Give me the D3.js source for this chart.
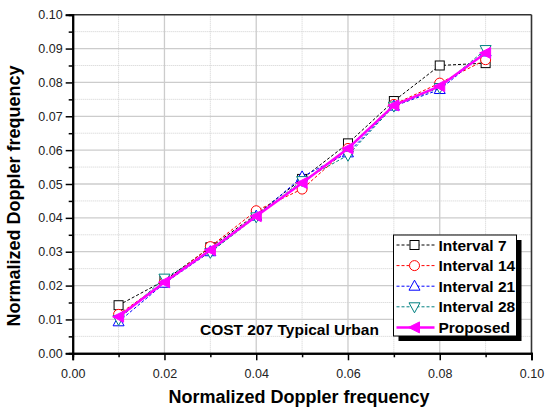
<!DOCTYPE html>
<html>
<head>
<meta charset="utf-8">
<script src="https://cdnjs.cloudflare.com/ajax/libs/d3/7.8.5/d3.min.js"></script>
<style>
body{margin:0;background:#fff;}
text{font-family:Arial,"Liberation Sans",sans-serif;}
</style>
</head>
<body>
<div id="chart"></div>
<script>
// data
var xs = [0.01,0.02,0.03,0.04,0.05,0.06,0.07,0.08,0.09];
var interval7  = [0.0142,0.0215,0.0313,0.0410,0.0515,0.0620,0.0745,0.0850,0.0857];
var interval14 = [0.0115,0.0210,0.0315,0.0421,0.0485,0.0605,0.0735,0.0798,0.0867];
var interval21 = [0.0093,0.0207,0.0300,0.0405,0.0521,0.0592,0.0730,0.0779,0.0890];
var interval28 = [0.0100,0.0222,0.0298,0.0403,0.0510,0.0585,0.0730,0.0785,0.0897];
var proposed   = [0.0108,0.0210,0.0305,0.0405,0.0503,0.0605,0.0732,0.0789,0.0887];
var seriesNames = ["Interval 7","Interval 14","Interval 21","Interval 28","Proposed"];
var xTicks = [0,0.02,0.04,0.06,0.08,0.10];
var yTicks = [0,0.01,0.02,0.03,0.04,0.05,0.06,0.07,0.08,0.09,0.10];

var series = [
    {name:seriesNames[0], vals:interval7,  color:"#000000", sym:"square"},
    {name:seriesNames[1], vals:interval14, color:"#ff0000", sym:"circle"},
    {name:seriesNames[2], vals:interval21, color:"#0000ff", sym:"up"},
    {name:seriesNames[3], vals:interval28, color:"#008080", sym:"down"},
    {name:seriesNames[4], vals:proposed,   color:"#ff00ff", sym:"left"}
];

var W=545,H=410;
var L=72.7,R=531.5,T=14.7,B=353.3;

var svg = d3.select("#chart").append("svg")
    .attr("width",W).attr("height",H);

var x = d3.scaleLinear().domain([0,0.1]).range([L,R]);
var y = d3.scaleLinear().domain([0,0.1]).range([B,T]);

// grid
var minorX = d3.range(0.01,0.1,0.02);
var minorY = d3.range(0.005,0.1,0.01);
svg.selectAll(".gxm").data(minorX).enter().append("line")
    .attr("x1",d=>x(d)).attr("x2",d=>x(d)).attr("y1",T).attr("y2",B)
    .attr("stroke","#d0d0d0").attr("stroke-width",1).attr("stroke-dasharray","1,1");
svg.selectAll(".gym").data(minorY).enter().append("line")
    .attr("y1",d=>y(d)).attr("y2",d=>y(d)).attr("x1",L).attr("x2",R)
    .attr("stroke","#d0d0d0").attr("stroke-width",1).attr("stroke-dasharray","1,1");
svg.selectAll(".gx").data(xTicks.slice(1,-1)).enter().append("line")
    .attr("x1",d=>x(d)).attr("x2",d=>x(d)).attr("y1",T).attr("y2",B)
    .attr("stroke","#cccccc").attr("stroke-width",1.3);
svg.selectAll(".gy").data(yTicks.slice(1,-1)).enter().append("line")
    .attr("y1",d=>y(d)).attr("y2",d=>y(d)).attr("x1",L).attr("x2",R)
    .attr("stroke","#cccccc").attr("stroke-width",1.3);

// frame top/right
svg.append("line").attr("x1",L).attr("x2",R).attr("y1",T).attr("y2",T)
    .attr("stroke","#333").attr("stroke-width",1.6);
svg.append("line").attr("x1",R).attr("x2",R).attr("y1",T).attr("y2",B)
    .attr("stroke","#333").attr("stroke-width",1.6);

// axes
var xAxis = svg.append("g").attr("transform","translate(0,"+B+")")
    .call(d3.axisBottom(x).tickValues(xTicks).tickFormat(d3.format(".2f")).tickSize(7).tickPadding(9));
var xMinor = svg.append("g").attr("transform","translate(0,"+B+")")
    .call(d3.axisBottom(x).tickValues(minorX).tickFormat("").tickSize(4));
var yAxis = svg.append("g").attr("transform","translate("+L+",0)")
    .call(d3.axisLeft(y).tickValues(yTicks).tickFormat(d3.format(".2f")).tickSize(7).tickPadding(3));
var yMinor = svg.append("g").attr("transform","translate("+L+",0)")
    .call(d3.axisLeft(y).tickValues(minorY).tickFormat("").tickSize(4));
[xAxis,xMinor,yAxis,yMinor].forEach(function(g){
    g.select(".domain").attr("stroke","#000").attr("stroke-width",2);
    g.selectAll(".tick line").attr("stroke","#000").attr("stroke-width",1.5);
    g.selectAll(".tick text").attr("font-size",12.5).attr("fill","#222")
        .style("font-family","Arial,'Liberation Sans',sans-serif");
});

// symbols
function drawSym(g,sym,color,cx,cy){
    if(sym=="square"){
        g.append("rect").attr("x",cx-4.5).attr("y",cy-4.5).attr("width",9).attr("height",9)
            .attr("fill","#fff").attr("stroke",color).attr("stroke-width",1);
    } else if(sym=="circle"){
        g.append("circle").attr("cx",cx).attr("cy",cy).attr("r",5)
            .attr("fill","#fff").attr("stroke",color).attr("stroke-width",1);
    } else if(sym=="up"){
        g.append("path").attr("d","M"+cx+","+(cy-6)+"L"+(cx+5.5)+","+(cy+4)+"L"+(cx-5.5)+","+(cy+4)+"Z")
            .attr("fill","#fff").attr("stroke",color).attr("stroke-width",1);
    } else if(sym=="down"){
        g.append("path").attr("d","M"+cx+","+(cy+6)+"L"+(cx+5.5)+","+(cy-4)+"L"+(cx-5.5)+","+(cy-4)+"Z")
            .attr("fill","#fff").attr("stroke",color).attr("stroke-width",1);
    } else {
        g.append("path").attr("d","M"+(cx-6)+","+cy+"L"+(cx+5)+","+(cy-5.5)+"L"+(cx+5)+","+(cy+5.5)+"Z")
            .attr("fill",color).attr("stroke",color).attr("stroke-width",1);
    }
}

var line = d3.line().x(d=>x(d[0])).y(d=>y(d[1]));

series.forEach(function(s){
    var pts = xs.map((v,i)=>[v,s.vals[i]]);
    var g = svg.append("g");
    g.append("path").datum(pts).attr("d",line).attr("fill","none")
        .attr("stroke",s.color)
        .attr("stroke-width",s.sym=="left"?2.5:1)
        .attr("stroke-dasharray",s.sym=="left"?null:"3,2");
    pts.forEach(function(p){ drawSym(g,s.sym,s.color,x(p[0]),y(p[1])); });
});

// annotation
svg.append("text").attr("x",200).attr("y",335).attr("font-size",15.5)
    .attr("font-weight","bold").text("COST 207 Typical Urban");

// legend
var lx=393.5, ly=235, lw=123, lh=101;
svg.append("rect").attr("x",lx+5).attr("y",ly+5).attr("width",lw).attr("height",lh).attr("fill","#000");
svg.append("rect").attr("x",lx).attr("y",ly).attr("width",lw).attr("height",lh)
    .attr("fill","#fff").attr("stroke","#000").attr("stroke-width",1);
series.forEach(function(s,i){
    var yy = ly+10+i*20.6;
    var g = svg.append("g");
    g.append("line").attr("x1",lx+3).attr("x2",lx+41).attr("y1",yy).attr("y2",yy)
        .attr("stroke",s.color).attr("stroke-width",s.sym=="left"?2.5:1)
        .attr("stroke-dasharray",s.sym=="left"?null:"3,2");
    drawSym(g,s.sym,s.color,lx+21,yy);
    g.append("text").attr("x",lx+45).attr("y",yy+5.5).attr("font-size",15.5)
        .attr("font-weight","bold").text(s.name);
});

// axis titles
svg.append("text").attr("x",299).attr("y",403).attr("text-anchor","middle")
    .attr("font-size",18).attr("font-weight","bold").text("Normalized Doppler frequency");
svg.append("text").attr("transform","translate(20,196) rotate(-90)")
    .attr("text-anchor","middle").attr("font-size",18).attr("font-weight","bold")
    .text("Normalized Doppler frequency");
</script>
</body>
</html>
